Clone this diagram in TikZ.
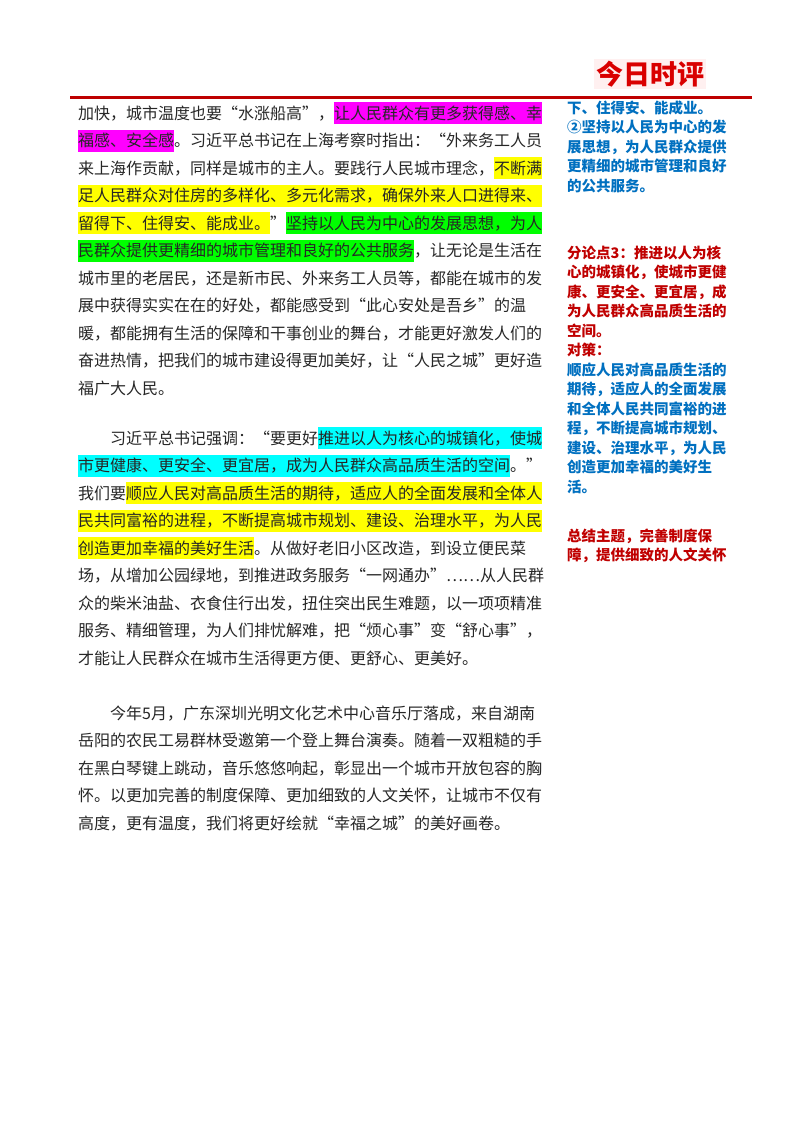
\documentclass[tikz,border=0pt]{standalone}
\usepackage{fontspec}
\setmainfont{Noto Sans CJK SC}
\XeTeXlinebreaklocale "zh"
\XeTeXlinebreakskip=0pt plus 3pt
\definecolor{hlM}{RGB}{255,0,255}
\definecolor{hlY}{RGB}{255,255,0}
\definecolor{hlG}{RGB}{0,255,0}
\definecolor{hlC}{RGB}{0,255,255}
\definecolor{sideblue}{RGB}{0,112,192}
\definecolor{sidered}{RGB}{192,0,0}
\definecolor{rulered}{RGB}{190,0,0}
\newcommand\hl[2]{{\setlength\fboxsep{0pt}\colorbox{#1}{\rule[-5pt]{0pt}{22pt}#2}}}
\newcommand\mst{\rule[-5pt]{0pt}{22pt}}
\newcommand\mline[3]{\node[mtext] (#1) at (78,#2) {\hbox to 472pt{\mst#3}};}
\newcommand\mlast[3]{\node[mtext] (#1) at (78,#2) {\hbox{\mst#3}};}
\newcommand\sst{\rule[-4pt]{0pt}{18pt}}
\newcommand\sline[4]{\node[stext,text=#3] (#1) at (567,#2) {\hbox to 176pt{\sst#4}};}
\newcommand\slast[4]{\node[stext,text=#3] (#1) at (567,#2) {\hbox{\sst#4}};}
\tikzset{
 mtext/.style={anchor=west,inner sep=0pt,font=\fontsize{16}{16}\selectfont,text=black!85},
 stext/.style={anchor=west,inner sep=0pt,font=\fontsize{14.5}{14.5}\selectfont\bfseries},
}
\begin{document}
\begin{tikzpicture}[x=1pt,y=-1pt]
\useasboundingbox (0,0) rectangle (800,1132);
\fill[white] (0,0) rectangle (800,1132);
% header
\node[font=\fontsize{27}{27}\selectfont\bfseries,text=red!85!black,fill=red!6,inner sep=2pt] (head) at (650,74) {今日时评};
\coordinate (rl) at (70,97);
\coordinate (rr) at (752,97);
\draw[rulered,line width=3pt] (rl) -- (rr);
% paragraph 1
\mline{a1}{113}{加快，城市温度也要“水涨船高”，\hl{hlM}{让人民群众有更多获得感、幸}}
\mline{a2}{140.5}{\hl{hlM}{福感、安全感}。习近平总书记在上海考察时指出：“外来务工人员}
\mline{a3}{168}{来上海作贡献，同样是城市的主人。要践行人民城市理念，\hl{hlY}{不断满}}
\mline{a4}{195.5}{\hl{hlY}{足人民群众对住房的多样化、多元化需求，确保外来人口进得来、}}
\mline{a5}{223}{\hl{hlY}{留得下、住得安、能成业。}”\hl{hlG}{坚持以人民为中心的发展思想，为人}}
\mline{a6}{250.5}{\hl{hlG}{民群众提供更精细的城市管理和良好的公共服务}，让无论是生活在}
\mline{a7}{278}{城市里的老居民，还是新市民、外来务工人员等，都能在城市的发}
\mline{a8}{305.5}{展中获得实实在在的好处，都能感受到“此心安处是吾乡”的温}
\mline{a9}{333}{暖，都能拥有生活的保障和干事创业的舞台，才能更好激发人们的}
\mline{a10}{360.5}{奋进热情，把我们的城市建设得更加美好，让“人民之城”更好造}
\mlast{a11}{388}{福广大人民。}
% paragraph 2
\mline{b1}{438}{\hspace{32pt}习近平总书记强调：“要更好\hl{hlC}{推进以人为核心的城镇化，使城}}
\mline{b2}{465.5}{\hl{hlC}{市更健康、更安全、更宜居，成为人民群众高品质生活的空间}。”}
\mline{b3}{493}{我们要\hl{hlY}{顺应人民对高品质生活的期待，适应人的全面发展和全体人}}
\mline{b4}{520.5}{\hl{hlY}{民共同富裕的进程，不断提高城市规划、建设、治理水平，为人民}}
\mline{b5}{548}{\hl{hlY}{创造更加幸福的美好生活}。从做好老旧小区改造，到设立便民菜}
\mline{b6}{575.5}{场，从增加公园绿地，到推进政务服务“一网通办”……从人民群}
\mline{b7}{603}{众的柴米油盐、衣食住行出发，扭住突出民生难题，以一项项精准}
\mline{b8}{630.5}{服务、精细管理，为人们排忧解难，把“烦心事”变“舒心事”，}
\mlast{b9}{658}{才能让人民群众在城市生活得更方便、更舒心、更美好。}
% paragraph 3
\mline{c1}{713}{\hspace{32pt}今年5月，广东深圳光明文化艺术中心音乐厅落成，来自湖南}
\mline{c2}{740.5}{岳阳的农民工易群林受邀第一个登上舞台演奏。随着一双粗糙的手}
\mline{c3}{768}{在黑白琴键上跳动，音乐悠悠响起，彰显出一个城市开放包容的胸}
\mline{c4}{795.5}{怀。以更加完善的制度保障、更加细致的人文关怀，让城市不仅有}
\mlast{c5}{823}{高度，更有温度，我们将更好绘就“幸福之城”的美好画卷。}
% sidebar
\slast{s1}{108}{sideblue}{下、住得安、能成业。}
\sline{s2}{127.5}{sideblue}{②坚持以人民为中心的发}
\sline{s3}{147}{sideblue}{展思想，为人民群众提供}
\sline{s4}{166.5}{sideblue}{更精细的城市管理和良好}
\slast{s5}{186}{sideblue}{的公共服务。}
\sline{t1}{253}{sidered}{分论点3：推进以人为核}
\sline{t2}{272.5}{sidered}{心的城镇化，使城市更健}
\sline{t3}{292}{sidered}{康、更安全、更宜居，成}
\sline{t4}{311.5}{sidered}{为人民群众高品质生活的}
\slast{t5}{331}{sidered}{空间。}
\slast{t6}{350.5}{sidered}{对策：}
\sline{u1}{370}{sideblue}{顺应人民对高品质生活的}
\sline{u2}{389.5}{sideblue}{期待，适应人的全面发展}
\sline{u3}{409}{sideblue}{和全体人民共同富裕的进}
\sline{u4}{428.5}{sideblue}{程，不断提高城市规划、}
\sline{u5}{448}{sideblue}{建设、治理水平，为人民}
\sline{u6}{467.5}{sideblue}{创造更加幸福的美好生}
\slast{u7}{487}{sideblue}{活。}
\sline{v1}{536}{sidered}{总结主题，完善制度保}
\sline{v2}{555.5}{sidered}{障，提供细致的人文关怀}
\end{tikzpicture}
\end{document}
